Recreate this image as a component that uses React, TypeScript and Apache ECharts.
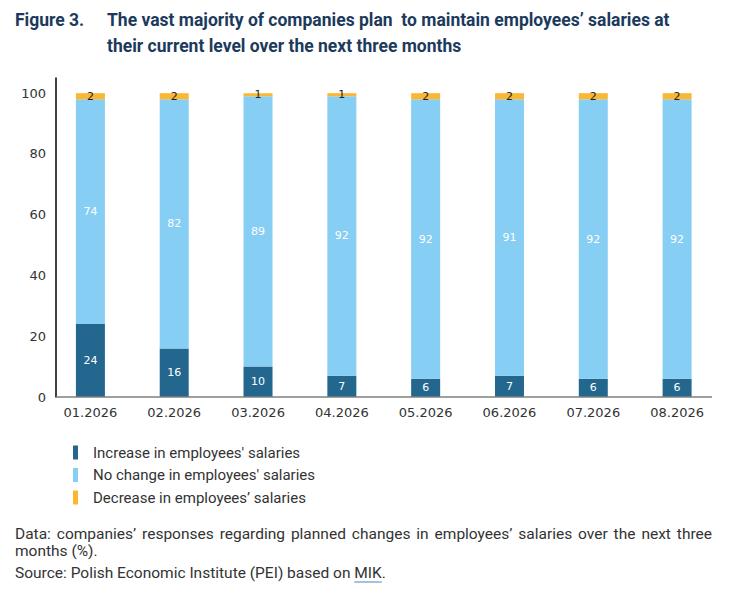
import React, { useEffect, useRef } from "react";
import * as echarts from "echarts";

const categories = ["01.2026", "02.2026", "03.2026", "04.2026", "05.2026", "06.2026", "07.2026", "08.2026"];
const increase = [24, 16, 10, 7, 6, 7, 6, 6];
const noChange = [74, 82, 89, 92, 92, 91, 92, 92];
const decrease = [2, 2, 1, 1, 2, 2, 2, 2];
const seriesNames = [
  "Increase in employees' salaries",
  "No change in employees' salaries",
  "Decrease in employees’ salaries",
];
const yTicks = [0, 20, 40, 60, 80, 100];

const titleLabel = "Figure 3.";
const titleLines = [
  "The vast majority of companies plan  to maintain employees’ salaries at",
  "their current level over the next three months",
];
const noteLine1 = "Data: companies’ responses regarding planned changes in employees’ salaries over the next three";
const noteLine2 = "months (%).";
const sourcePrefix = "Source: Polish Economic Institute (PEI) based on ";
const sourceLink = "MIK";
const sourceEnd = ".";

const COLORS = ["#23678F", "#86CEF3", "#FBB731"];
const TITLE_COLOR = "#1C3A5C";
const TEXT_COLOR = "#333333";
const FONT = "Roboto, 'Liberation Sans', sans-serif";
const AXIS_FONT = "'DejaVu Sans', Verdana, sans-serif";

const GRID_LEFT = 48.5;
const GRID_RIGHT = 13;
const GRID_TOP = 78;
const GRID_BOTTOM = 193;
const AXIS_X = 56;
const AXIS_END_X = 712;

function measure(text: string, font: string): number {
  const c = document.createElement("canvas");
  const ctx = c.getContext("2d");
  if (!ctx) return text.length * 7;
  ctx.font = font;
  return ctx.measureText(text).width;
}

export default function App() {
  const ref = useRef<HTMLDivElement>(null);

  useEffect(() => {
    if (!ref.current) return;
    const chart = echarts.init(ref.current, undefined, { renderer: "svg" });

    const noteFontSize = 15.5;
    const noteFont = `${noteFontSize}px Roboto`;
    const left = 15;
    const right = 712;
    const words = noteLine1.split(" ");
    const widths = words.map((w) => measure(w, noteFont));
    const total = widths.reduce((a, b) => a + b, 0);
    const gap = (right - left - total) / (words.length - 1);
    const noteY1 = 534;
    const noteY2 = 551;
    const srcY = 573;
    const wordEls: any[] = [];
    let cx = left;
    words.forEach((w, i) => {
      wordEls.push({
        type: "text",
        x: cx,
        y: noteY1,
        style: {
          text: w,
          fontSize: noteFontSize,
          fontFamily: FONT,
          fill: TEXT_COLOR,
          textAlign: "left",
          textVerticalAlign: "middle",
        },
      });
      cx += widths[i] + gap;
    });
    const prefixW = measure(sourcePrefix, noteFont);
    const linkW = measure(sourceLink, noteFont);

    const textStyle = (text: string, size: number, weight: string, color: string, family = FONT) => ({
      text,
      fontSize: size,
      fontWeight: weight,
      fontFamily: family,
      fill: color,
      textAlign: "left",
      textVerticalAlign: "middle",
    });

    const labelCommon = {
      show: true,
      position: "inside",
      fontSize: 11,
      fontFamily: AXIS_FONT,
    };

    const chartH = 590;
    const axisY = chartH - GRID_BOTTOM;

    chart.setOption({
      animation: false,
      backgroundColor: "#ffffff",
      grid: { left: GRID_LEFT, right: GRID_RIGHT, top: GRID_TOP, bottom: GRID_BOTTOM, containLabel: false },
      legend: {
        orient: "vertical",
        left: 73,
        top: 445,
        padding: 0,
        itemWidth: 5,
        itemHeight: 14,
        itemGap: 7.5,
        icon: "rect",
        selectedMode: false,
        textStyle: { fontSize: 15, fontFamily: FONT, color: TEXT_COLOR, padding: [0, 0, 0, 10] },
        data: seriesNames,
      },
      xAxis: {
        type: "category",
        data: categories,
        axisLine: { show: false },
        axisTick: { show: false },
        axisLabel: { fontSize: 13, fontFamily: AXIS_FONT, color: TEXT_COLOR, margin: 9 },
      },
      yAxis: {
        type: "value",
        min: 0,
        max: 105,
        interval: 20,
        offset: GRID_LEFT - AXIS_X,
        axisLine: { show: true, lineStyle: { color: "#000000", width: 1.5 } },
        axisTick: { show: false },
        splitLine: { show: false },
        axisLabel: {
          fontSize: 13,
          fontFamily: AXIS_FONT,
          color: TEXT_COLOR,
          margin: 10,
          showMaxLabel: false,
          formatter: (v: number) => (yTicks.indexOf(v) >= 0 ? String(v) : ""),
        },
      },
      series: [
        {
          name: seriesNames[0],
          type: "bar",
          stack: "total",
          barWidth: 29,
          data: increase,
          itemStyle: { color: COLORS[0] },
          label: { ...labelCommon, color: "#ffffff" },
        },
        {
          name: seriesNames[1],
          type: "bar",
          stack: "total",
          barWidth: 29,
          data: noChange,
          itemStyle: { color: COLORS[1] },
          label: { ...labelCommon, color: "#ffffff" },
        },
        {
          name: seriesNames[2],
          type: "bar",
          stack: "total",
          barWidth: 29,
          data: decrease,
          itemStyle: { color: COLORS[2] },
          label: { ...labelCommon, color: "#222222" },
        },
      ],
      graphic: [
        {
          type: "line",
          z: 10,
          shape: { x1: AXIS_X, y1: axisY, x2: AXIS_END_X, y2: axisY },
          style: { stroke: "#7f7f7f", lineWidth: 1.5 },
        },
        { type: "text", x: 15, y: 20, style: textStyle(titleLabel, 17.5, "bold", TITLE_COLOR) },
        { type: "text", x: 107, y: 20, style: textStyle(titleLines[0], 17.5, "bold", TITLE_COLOR) },
        { type: "text", x: 107, y: 46, style: textStyle(titleLines[1], 17.5, "bold", TITLE_COLOR) },
        ...wordEls,
        { type: "text", x: left, y: noteY2, style: textStyle(noteLine2, noteFontSize, "normal", TEXT_COLOR) },
        { type: "text", x: left, y: srcY, style: textStyle(sourcePrefix, noteFontSize, "normal", TEXT_COLOR) },
        { type: "text", x: left + prefixW, y: srcY, style: textStyle(sourceLink, noteFontSize, "normal", TEXT_COLOR) },
        {
          type: "text",
          x: left + prefixW + linkW,
          y: srcY,
          style: textStyle(sourceEnd, noteFontSize, "normal", TEXT_COLOR),
        },
        {
          type: "line",
          shape: { x1: left + prefixW, y1: srcY + 9, x2: left + prefixW + linkW, y2: srcY + 9 },
          style: { stroke: "#4F86B5", lineWidth: 1 },
        },
      ],
    });

    return () => chart.dispose();
  }, []);

  return <div ref={ref} style={{ width: 732, height: 590, position: "absolute", left: 0, top: 0 }} />;
}
